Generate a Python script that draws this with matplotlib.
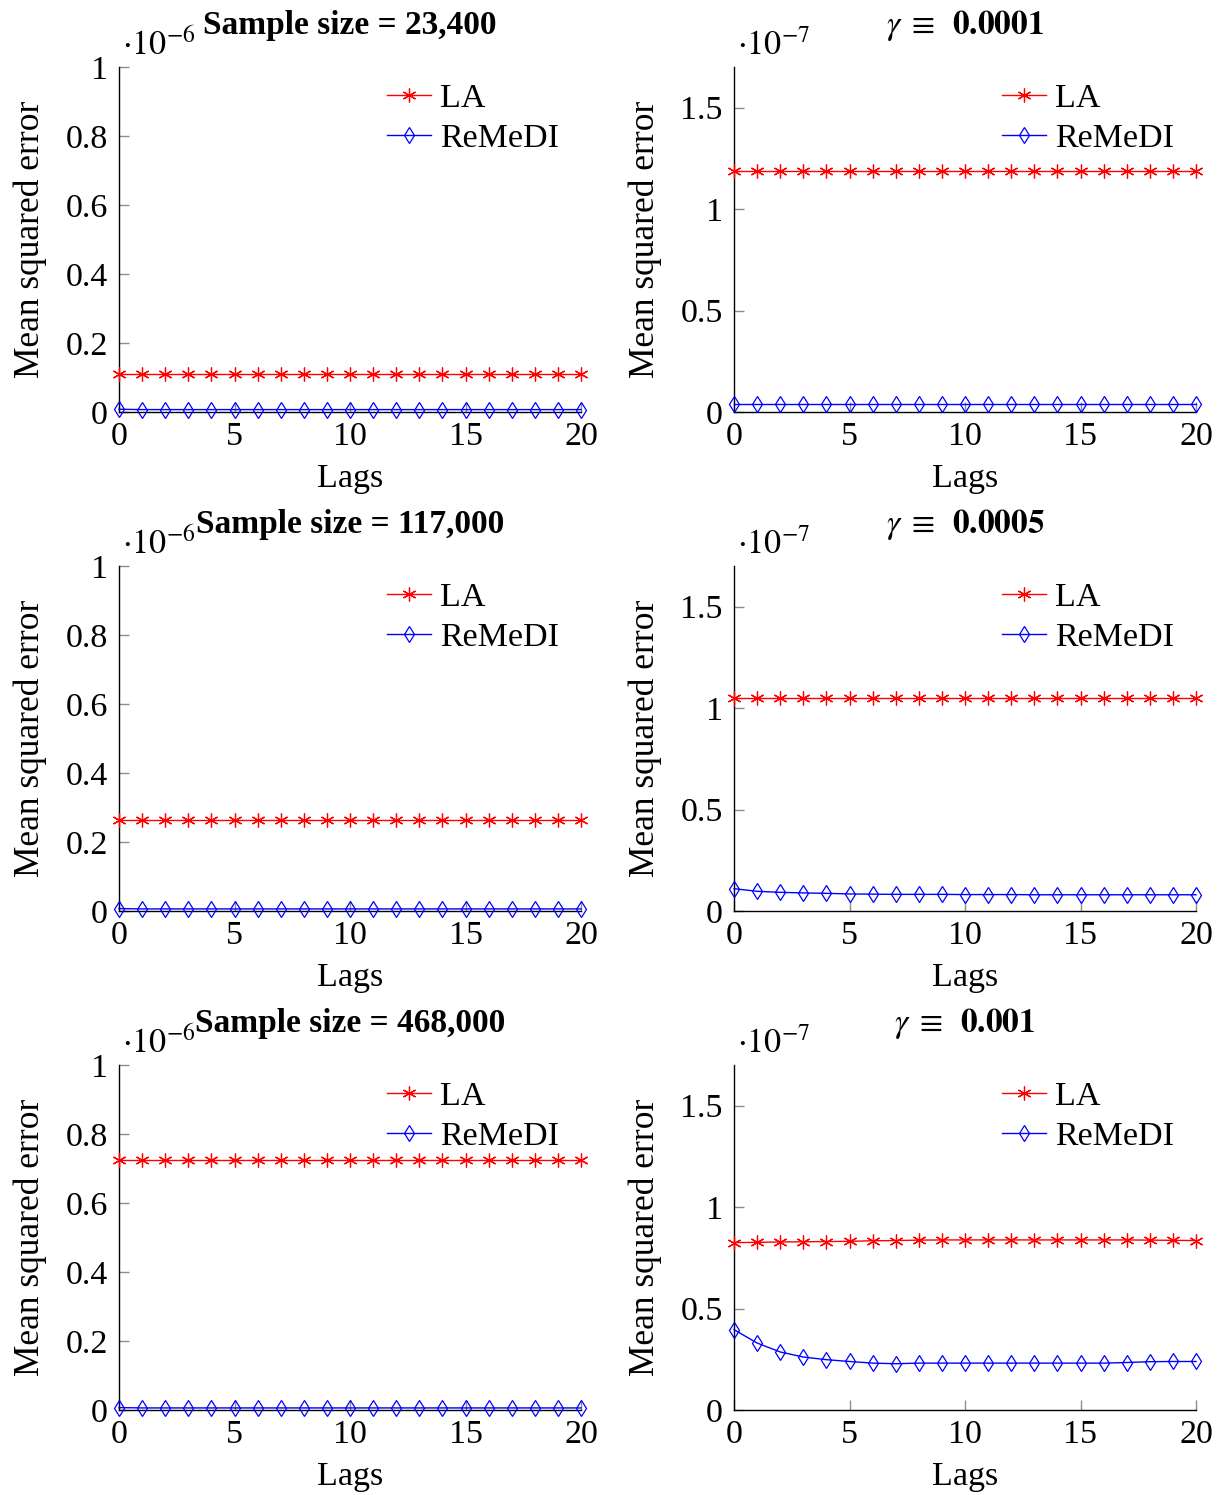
import matplotlib
matplotlib.use("Agg")
import matplotlib.pyplot as plt
import numpy as np

plt.rcParams['font.family'] = ['Liberation Serif', 'DejaVu Serif']
plt.rcParams['mathtext.fontset'] = 'stix'

lags = list(range(21))

# Left column (scale 1e-6)
la_23400 = [0.110] * 21
remedi_23400 = [0.008, 0.007, 0.007, 0.007, 0.007, 0.007, 0.007, 0.007, 0.007, 0.007,
                0.007, 0.007, 0.007, 0.007, 0.007, 0.007, 0.007, 0.007, 0.007, 0.007, 0.007]
la_117000 = [0.265] * 21
remedi_117000 = [0.007, 0.006, 0.006, 0.006, 0.006, 0.006, 0.006, 0.006, 0.006, 0.006,
                 0.006, 0.006, 0.006, 0.006, 0.006, 0.006, 0.006, 0.006, 0.006, 0.006, 0.006]
la_468000 = [0.724] * 21
remedi_468000 = [0.007, 0.006, 0.006, 0.006, 0.006, 0.006, 0.006, 0.006, 0.006, 0.006,
                 0.006, 0.006, 0.006, 0.006, 0.006, 0.006, 0.006, 0.006, 0.006, 0.006, 0.006]

# Right column (scale 1e-7)
la_g0001 = [1.189] * 21
remedi_g0001 = [0.040] * 21
la_g0005 = [1.051] * 21
remedi_g0005 = [0.110, 0.097, 0.092, 0.089, 0.087, 0.084, 0.083, 0.082, 0.082, 0.082,
                0.081, 0.081, 0.081, 0.080, 0.080, 0.080, 0.080, 0.080, 0.080, 0.080, 0.080]
la_g001 = [0.825, 0.826, 0.828, 0.829, 0.830, 0.831, 0.834, 0.835, 0.837, 0.838,
           0.838, 0.838, 0.838, 0.838, 0.838, 0.838, 0.838, 0.838, 0.837, 0.836, 0.835]
remedi_g001 = [0.396, 0.330, 0.286, 0.261, 0.248, 0.239, 0.231, 0.228, 0.231, 0.231,
               0.231, 0.231, 0.231, 0.231, 0.231, 0.231, 0.231, 0.234, 0.238, 0.239, 0.239]

left_titles = ['Sample size = 23,400', 'Sample size = 117,000', 'Sample size = 468,000']
right_titles = [r'$\gamma\;\equiv\;\;\mathbf{0.0001}$', r'$\gamma\;\equiv\;\;\mathbf{0.0005}$',
                r'$\gamma\;\equiv\;\;\mathbf{0.001}$']
left_yticks = [0, 0.2, 0.4, 0.6, 0.8, 1]
left_yticklabels = ['0', '0.2', '0.4', '0.6', '0.8', '1']
right_yticks = [0, 0.5, 1, 1.5]
right_yticklabels = ['0', '0.5', '1', '1.5']
xticks = [0, 5, 10, 15, 20]

left_data = [(la_23400, remedi_23400), (la_117000, remedi_117000), (la_468000, remedi_468000)]
right_data = [(la_g0001, remedi_g0001), (la_g0005, remedi_g0005), (la_g001, remedi_g001)]

W, H = 1224, 1495
fig = plt.figure(figsize=(W / 100, H / 100), dpi=100)

FS = 24.5
col_x = [119 / W, 734 / W]
aw = (581 - 119) / W
row_bottom_px = [412, 911, 1410]
ah = 345 / H

def style(ax, ymax, yt, ytl, scale):
    ax.set_xlim(0, 20)
    ax.set_ylim(0, ymax)
    for s in ['top', 'right']:
        ax.spines[s].set_visible(False)
    for s in ['left', 'bottom']:
        ax.spines[s].set_linewidth(1.0)
        ax.spines[s].set_color('black')
    ax.set_xticks(xticks)
    ax.set_xticklabels([str(t) for t in xticks])
    ax.set_yticks(yt)
    ax.set_yticklabels(ytl)
    ax.tick_params(direction='in', length=7, width=1.0, color='#8c8c8c',
                   labelsize=FS)
    ax.tick_params(axis='y', pad=8)
    ax.tick_params(axis='x', pad=7)
    ax.set_xlabel('Lags', fontsize=FS, labelpad=8)
    ax.set_ylabel('Mean squared error', fontsize=25.5, labelpad=13)
    ax.text(0.007, 1.015, r'$\cdot 10^{-%d}$' % scale, transform=ax.transAxes,
            fontsize=FS, ha='left', va='bottom')

for r in range(3):
    bottom = 1 - row_bottom_px[r] / H
    for c in range(2):
        ax = fig.add_axes([col_x[c], bottom, aw, ah])
        if c == 0:
            la, rm = left_data[r]
            style(ax, 1.0, left_yticks, left_yticklabels, 6)
            ax.set_title(left_titles[r], fontsize=24, fontweight='bold', pad=24)
        else:
            la, rm = right_data[r]
            style(ax, 1.7, right_yticks, right_yticklabels, 7)
            ax.set_title(right_titles[r], fontsize=24, pad=24)
        ax.plot(lags, la, color='red', lw=1.0, marker=(6, 2, 0), markersize=10,
                markeredgewidth=0.9, label='LA', clip_on=False, zorder=3)
        ax.plot(lags, rm, color='blue', lw=1.0, marker='d', markersize=8,
                markerfacecolor='none', markeredgewidth=0.9, label='ReMeDI',
                clip_on=False, zorder=3)
        ax.legend(loc='upper right', bbox_to_anchor=(0.952, 0.952), frameon=False,
                  fontsize=FS, handlelength=1.3, handletextpad=0.25,
                  labelspacing=0.25, borderaxespad=0.0, borderpad=0.0)

fig.savefig('out.png', dpi=100)
